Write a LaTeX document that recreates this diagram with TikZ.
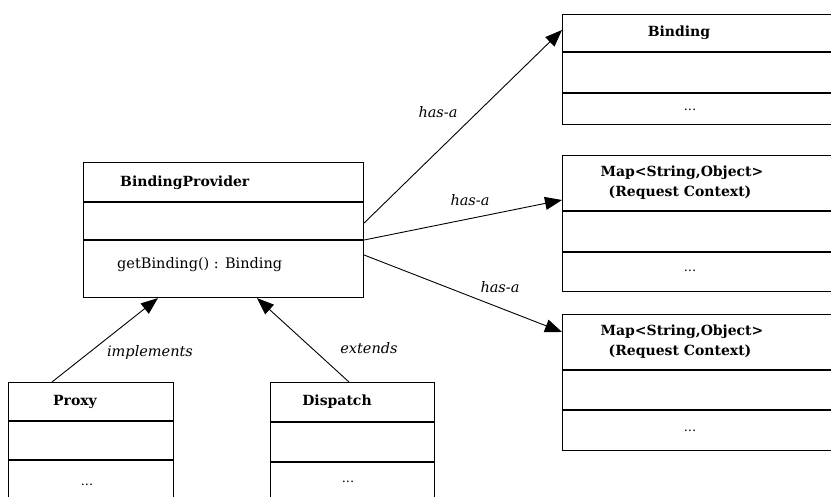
\documentclass[tikz,border=0pt]{standalone}
\usepackage{fontspec}
\setmainfont{DejaVu Serif}
\usetikzlibrary{arrows.meta,positioning}
\tikzset{
  umlbox/.style={draw, line width=1.1pt, rectangle, anchor=north west, inner sep=0pt},
  divider/.style={line width=1.1pt},
  title/.style={font=\fontsize{14}{16}\selectfont\bfseries, inner sep=0pt},
  member/.style={font=\fontsize{14.5}{16}\selectfont, inner sep=0pt},
  dots/.style={font=\fontsize{13}{14}\selectfont, inner sep=0pt},
  rel/.style={line width=0.9pt, -{Triangle[length=17pt,width=13pt]}},
  rellabel/.style={font=\fontsize{14.5}{16}\selectfont\itshape, inner sep=0pt}
}
\begin{document}
\begin{tikzpicture}[x=1pt,y=-1pt]
\useasboundingbox (0,0) rectangle (831,496);
\clip (0,0) rectangle (831,496);
% boxes
\node[umlbox, minimum width=280pt, minimum height=135pt] (bp) at (83,162) {};
\draw[divider] (83,202) -- (363,202);
\draw[divider] (83,240) -- (363,240);
\node[title, anchor=west] (bpt) at (120,183) {BindingProvider};
\node[member, anchor=west] (bpm) at (117,265) {getBinding() : Binding};

\node[umlbox, minimum width=300pt, minimum height=110pt] (bind) at (562,14) {};
\draw[divider] (562,52) -- (862,52);
\draw[divider] (562,93) -- (862,93);
\node[title] (bindt) at (679,33) {Binding};
\node[dots] (bindd) at (690,110) {...};

\node[umlbox, minimum width=300pt, minimum height=136pt] (mapa) at (562,155) {};
\draw[divider] (562,211) -- (862,211);
\draw[divider] (562,252) -- (862,252);
\node[title] (mapat) at (682,173) {Map<String,Object>};
\node[title] (mapat2) at (680,193) {(Request Context)};
\node[dots] (mapad) at (690,271) {...};

\node[umlbox, minimum width=300pt, minimum height=136pt] (mapb) at (562,314) {};
\draw[divider] (562,370) -- (862,370);
\draw[divider] (562,410) -- (862,410);
\node[title] (mapbt) at (682,332) {Map<String,Object>};
\node[title] (mapbt2) at (680,352) {(Request Context)};
\node[dots] (mapbd) at (690,431) {...};

\node[umlbox, minimum width=165pt, minimum height=130pt] (proxy) at (8,382) {};
\draw[divider] (8,421) -- (173,421);
\draw[divider] (8,460) -- (173,460);
\node[title] (proxyt) at (75,402) {Proxy};
\node[dots] (proxyd) at (87,485) {...};

\node[umlbox, minimum width=164pt, minimum height=130pt] (disp) at (270,382) {};
\draw[divider] (270,422) -- (434,422);
\draw[divider] (270,462) -- (434,462);
\node[title] (dispt) at (337,402) {Dispatch};
\node[dots] (dispd) at (348,482) {...};

% connectors
\draw[rel] ([yshift=-61pt]bp.north east) -- ([yshift=-16pt]bind.north west);
\draw[rel] ([yshift=-78pt]bp.north east) -- ([yshift=-45pt]mapa.north west);
\draw[rel] ([yshift=-93pt]bp.north east) -- ([yshift=-18pt]mapb.north west);
\draw[rel] ([xshift=44pt]proxy.north west) -- ([xshift=75pt]bp.south west);
\draw[rel] ([xshift=79pt]disp.north west) -- ([xshift=174pt]bp.south west);

% labels
\node[rellabel] (l1) at (438,112) {has-a};
\node[rellabel] (l2) at (470,200) {has-a};
\node[rellabel] (l3) at (500,287) {has-a};
\node[rellabel] (l4) at (150,352) {implements};
\node[rellabel] (l5) at (369,348) {extends};
\end{tikzpicture}
\end{document}
